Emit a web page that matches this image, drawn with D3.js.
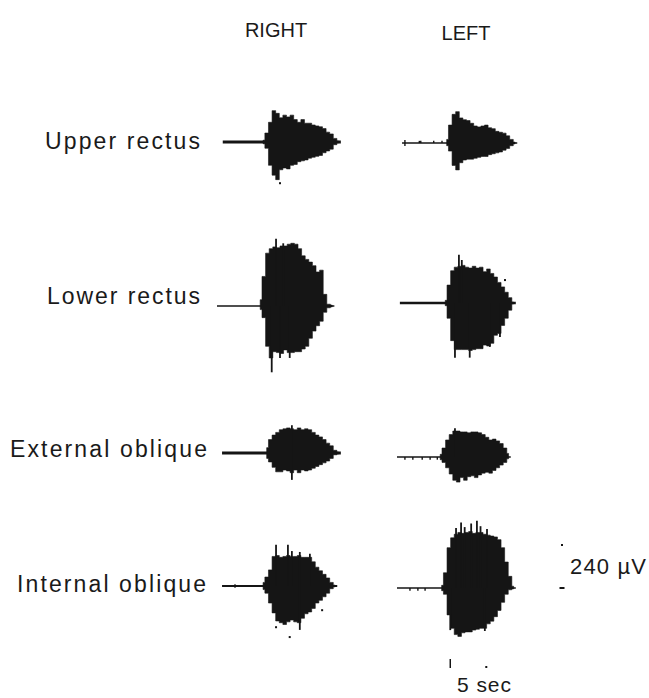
<!DOCTYPE html>
<html>
<head>
<meta charset="utf-8">
<script src="https://cdn.jsdelivr.net/npm/d3@7/dist/d3.min.js"></script>
<style>
  html, body { margin: 0; padding: 0; background: #fff; }
  svg { display: block; }
  text { font-family: "Liberation Sans", Arial, Helvetica, sans-serif; fill: #1a1a1a; }
</style>
</head>
<body>
<svg id="chart" width="649" height="698"></svg>
<script>
// ---- Data -------------------------------------------------------------
// Surface EMG of four abdominal muscles, right and left side.
const muscles = ["Upper rectus", "Lower rectus", "External oblique", "Internal oblique"];
const sides = ["RIGHT", "LEFT"];
const sampleStep = 0.5;            // s between envelope samples

// Right side: baseline start (s), burst onset (s), baseline noise (µV),
// upper and lower burst envelopes (µV) every sampleStep seconds
const rightStart = [0.8, 0.0, 0.7, 0.7];
const rightOnset = [6.4, 6.0, 6.9, 6.4];
const rightNoise = [8, 4, 8, 5];
const rightUpper = [
  [10, 50, 110, 175, 160, 135, 150, 140, 150, 125, 110, 125, 105, 105, 95, 90, 85, 75, 55, 45, 20, 5],
  [35, 165, 295, 320, 330, 325, 335, 335, 345, 350, 345, 320, 280, 260, 245, 225, 190, 200, 65, 10, 5],
  [30, 75, 100, 115, 130, 135, 140, 135, 130, 140, 130, 135, 130, 115, 100, 90, 75, 55, 40, 15, 5],
  [20, 50, 90, 165, 170, 160, 165, 170, 165, 165, 170, 160, 160, 160, 135, 105, 85, 65, 45, 20, 5]
];
const rightLower = [
  [10, 35, 130, 185, 210, 155, 145, 150, 130, 125, 110, 105, 100, 90, 85, 80, 75, 60, 50, 40, 15, 5],
  [20, 65, 225, 290, 255, 260, 265, 245, 260, 260, 255, 255, 240, 225, 180, 140, 110, 85, 35, 10, 5],
  [30, 50, 80, 105, 105, 95, 100, 110, 95, 110, 95, 100, 95, 85, 75, 65, 55, 45, 30, 10, 5],
  [20, 40, 95, 150, 195, 205, 215, 200, 190, 200, 205, 180, 155, 145, 125, 95, 80, 60, 40, 15, 5]
];
// single large spikes [s, µV], baseline blips [s, µV] and stray points [s, µV]
const rightSpikes = [
  [],
  [[8.2, 375], [9.2, 350], [7.6, -370], [8.75, -290], [10.1, -290]],
  [[10.4, 155], [10.4, -150]],
  [[8.2, 230], [9.85, 230], [10.4, 195], [11.5, 190], [12.9, 180], [11.5, -245]]
];
const rightBlips = [[], [], [], [[2.5, 10], [2.5, -10]]];
const rightDots  = [[[8.75, -230]], [], [], [[8.2, -230], [10.1, -285], [14.6, -135]]];

// Left side
const leftStart = [0.7, 0.4, 0.0, 0.0];
const leftOnset = [6.9, 6.7, 6.0, 6.2];
const leftNoise = [4, 7, 4, 4];
const leftUpper = [
  [20, 100, 160, 175, 140, 130, 125, 110, 95, 90, 95, 100, 85, 80, 65, 60, 55, 40, 20, 5],
  [15, 100, 180, 200, 205, 210, 200, 195, 205, 195, 200, 175, 190, 165, 145, 115, 90, 60, 30, 5],
  [15, 50, 95, 125, 145, 145, 140, 140, 135, 140, 140, 135, 125, 110, 95, 100, 90, 75, 50, 20],
  [15, 85, 225, 280, 300, 310, 305, 310, 315, 305, 310, 310, 300, 295, 290, 285, 270, 225, 145, 65, 10]
];
const leftLower = [
  [15, 45, 125, 150, 110, 95, 90, 90, 85, 80, 75, 75, 65, 60, 55, 50, 40, 30, 15, 5],
  [15, 85, 210, 260, 260, 260, 260, 265, 260, 255, 255, 235, 240, 225, 180, 170, 125, 85, 40, 5],
  [15, 30, 60, 95, 130, 140, 115, 130, 110, 105, 115, 100, 90, 85, 90, 75, 60, 45, 30, 10],
  [15, 35, 150, 225, 260, 270, 250, 245, 245, 235, 230, 225, 225, 200, 185, 160, 125, 80, 35, 10, 5]
];
const leftSpikes = [
  [],
  [[8.6, 270], [9.0, 240], [8.05, -305], [10.1, -305], [12.9, -245], [14.3, -190]],
  [[8.05, 160]],
  [[8.2, 335], [8.9, 365], [9.4, 340], [10.3, 360], [11.1, 375], [11.6, 345], [12.5, 330],
   [7.4, -235], [12.2, -240]]
];
const leftBlips = [
  [[1.1, 17], [1.1, -17], [3.1, 12], [3.3, 12], [5.1, 12], [6.25, 12]],
  [],
  [[1.1, -15], [2.2, -15], [3.5, -15], [4.6, -15], [5.6, -15]],
  [[1.8, -15], [2.9, -15], [3.9, -15]]
];
const leftDots = [[], [[15.0, 128]], [], []];

// calibration bars
const ampBar = 240;     // µV
const timeBar = 5;      // s
const ampBarLabel = "240 µV";
const timeBarLabel = "5 sec";

// ---- Layout -----------------------------------------------------------
const pxPerSec = 7.2;
const pxPerUv = 43 / 240;
const colX0 = { RIGHT: 217, LEFT: 397 };
const colHeaderX = { RIGHT: 276, LEFT: 466 };
const rowBase = { RIGHT: [142, 306, 453, 586], LEFT: [143, 303, 457, 588] };
const labelLayout = [
  { right: 200, y: 149, width: 155 },
  { right: 200, y: 304, width: 153 },
  { right: 207, y: 457, width: 197 },
  { right: 206, y: 592, width: 189 }
];

const svg = d3.select("#chart");

const xScale = side => d3.scaleLinear().domain([0, 20]).range([colX0[side], colX0[side] + 20 * pxPerSec]);
const yScale = (side, row) => d3.scaleLinear()
  .domain([-400, 400])
  .range([rowBase[side][row] + 400 * pxPerUv, rowBase[side][row] - 400 * pxPerUv]);

const sideData = {
  RIGHT: { start: rightStart, onset: rightOnset, noise: rightNoise, up: rightUpper, dn: rightLower,
           spikes: rightSpikes, blips: rightBlips, dots: rightDots },
  LEFT:  { start: leftStart,  onset: leftOnset,  noise: leftNoise,  up: leftUpper,  dn: leftLower,
           spikes: leftSpikes, blips: leftBlips, dots: leftDots }
};

const ink = "#151515";

sides.forEach(side => {
  const d = sideData[side];
  const x = xScale(side);
  muscles.forEach((m, r) => {
    const y = yScale(side, r);
    const g = svg.append("g").attr("class", "trace");
    const up = d.up[r], dn = d.dn[r];
    const onset = d.onset[r];
    const end = onset + (up.length - 1) * sampleStep;

    // quiet baseline before and after the burst
    const baseArea = d3.area()
      .x(p => x(p[0])).y0(p => y(-p[1])).y1(p => y(p[1]));
    g.append("path")
      .attr("d", baseArea([[d.start[r], d.noise[r]], [end + 0.3, d.noise[r]]]))
      .attr("fill", ink);

    // baseline blips
    g.selectAll("line.blip").data(d.blips[r]).join("line")
      .attr("class", "blip")
      .attr("x1", p => x(p[0])).attr("x2", p => x(p[0]))
      .attr("y1", y(0)).attr("y2", p => y(p[1]))
      .attr("stroke", ink).attr("stroke-width", 1.4);

    // burst envelope
    const pts = up.map((u, i) => ({ t: onset + i * sampleStep, hi: u, lo: -dn[i] }));
    const burst = d3.area()
      .x(p => x(p.t)).y0(p => y(p.lo)).y1(p => y(p.hi))
      .curve(d3.curveStep);
    g.append("path")
      .attr("d", burst(pts))
      .attr("fill", ink).attr("stroke", ink).attr("stroke-width", 0.6)
      .attr("stroke-linejoin", "miter");

    // large single spikes
    g.selectAll("line.spike").data(d.spikes[r]).join("line")
      .attr("class", "spike")
      .attr("x1", p => x(p[0])).attr("x2", p => x(p[0]))
      .attr("y1", y(0)).attr("y2", p => y(p[1]))
      .attr("stroke", ink).attr("stroke-width", 1.8);

    // stray samples
    g.selectAll("rect.dot").data(d.dots[r]).join("rect")
      .attr("class", "dot")
      .attr("x", p => x(p[0]) - 1).attr("y", p => y(p[1]) - 1)
      .attr("width", 2).attr("height", 2).attr("fill", ink);
  });

  // column header
  svg.append("text")
    .attr("x", colHeaderX[side]).attr("y", side === "RIGHT" ? 37 : 40)
    .attr("text-anchor", "middle").attr("font-size", 20)
    .text(side);
});

// row labels
svg.selectAll("text.row").data(muscles).join("text")
  .attr("class", "row")
  .attr("x", (m, i) => labelLayout[i].right - labelLayout[i].width)
  .attr("y", (m, i) => labelLayout[i].y)
  .attr("textLength", (m, i) => labelLayout[i].width)
  .attr("lengthAdjust", "spacing")
  .attr("font-size", 23)
  .text(m => m);

// amplitude calibration (µV), next to the bottom-left trace
const yCal = yScale("LEFT", 3);
const calX = 562;
svg.append("rect").attr("x", calX - 1).attr("y", yCal(ampBar) - 1).attr("width", 2).attr("height", 2).attr("fill", ink);
svg.append("rect").attr("x", calX - 2.5).attr("y", yCal(0) - 1).attr("width", 5).attr("height", 2).attr("fill", ink);
svg.append("text").attr("x", 570).attr("y", 574)
  .attr("textLength", 76).attr("lengthAdjust", "spacing")
  .attr("font-size", 22).text(ampBarLabel);

// time calibration (s), under the left column
const xCal = xScale("LEFT");
const calT0 = 7.4;
svg.append("line").attr("x1", xCal(calT0)).attr("x2", xCal(calT0))
  .attr("y1", 659).attr("y2", 668).attr("stroke", ink).attr("stroke-width", 1.5);
svg.append("rect").attr("x", xCal(calT0 + timeBar) - 1).attr("y", 666).attr("width", 2).attr("height", 2).attr("fill", ink);
svg.append("text").attr("x", 457).attr("y", 692)
  .attr("textLength", 54).attr("lengthAdjust", "spacing")
  .attr("font-size", 21).text(timeBarLabel);
</script>
</body>
</html>
